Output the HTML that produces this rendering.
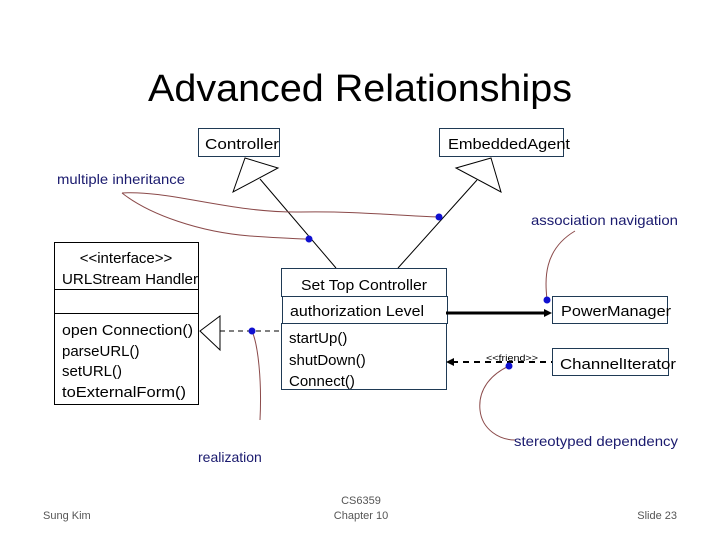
<!DOCTYPE html>
<html><head><meta charset="utf-8"><style>
html,body{margin:0;padding:0;background:#fff;}
svg{display:block;}
text{font-family:"Liberation Sans",sans-serif;}
</style></head><body>
<svg width="720" height="540" viewBox="0 0 720 540" xmlns="http://www.w3.org/2000/svg">
<text x="148" y="101" font-size="38" textLength="424" lengthAdjust="spacingAndGlyphs" fill="#000">Advanced Relationships</text>

<!-- Controller & EmbeddedAgent -->
<rect x="198.5" y="128.5" width="81" height="28" fill="#fff" stroke="#1f3a55" stroke-width="1"/>
<text x="205" y="149" font-size="15" textLength="74" lengthAdjust="spacingAndGlyphs">Controller</text>
<rect x="439.5" y="128.5" width="124" height="28" fill="#fff" stroke="#1f3a55" stroke-width="1"/>
<text x="448" y="149" font-size="15" textLength="122" lengthAdjust="spacingAndGlyphs">EmbeddedAgent</text>

<!-- generalization triangles & lines -->
<polygon points="233,192 245,158 278,168" fill="#fff" stroke="#000"/>
<line x1="260" y1="179" x2="336" y2="268" stroke="#000"/>
<polygon points="456,168 491,158 501,192" fill="#fff" stroke="#000"/>
<line x1="477" y1="180" x2="398" y2="268" stroke="#000"/>

<!-- multiple inheritance note curves -->
<text x="57" y="184" font-size="14" fill="#1a1a6e" textLength="128" lengthAdjust="spacingAndGlyphs">multiple inheritance</text>
<path d="M122,193 C170,190 230,213 300,212 C360,211 400,216 439,217" fill="none" stroke="#8b4a4a"/>
<path d="M122,193 C150,215 200,232 250,236 C280,238 300,239 309,239" fill="none" stroke="#8b4a4a"/>
<circle cx="309" cy="239" r="3.5" fill="#1010d0"/>
<circle cx="439" cy="217" r="3.5" fill="#1010d0"/>

<!-- URLStreamHandler -->
<rect x="54.5" y="242.5" width="144" height="162" fill="#fff" stroke="#000"/>
<line x1="54" y1="289.5" x2="198" y2="289.5" stroke="#000"/>
<line x1="54" y1="313.5" x2="198" y2="313.5" stroke="#000"/>
<text x="126" y="263" font-size="15" text-anchor="middle">&lt;&lt;interface&gt;&gt;</text>
<text x="62" y="284" font-size="15" textLength="136" lengthAdjust="spacingAndGlyphs">URLStream Handler</text>
<text x="62" y="335" font-size="15" textLength="131" lengthAdjust="spacingAndGlyphs">open Connection()</text>
<text x="62" y="356" font-size="15">parseURL()</text>
<text x="62" y="376" font-size="15">setURL()</text>
<text x="62" y="397" font-size="15" textLength="124" lengthAdjust="spacingAndGlyphs">toExternalForm()</text>

<!-- SetTopController -->
<rect x="281.5" y="268.5" width="165" height="28" fill="#fff" stroke="#1f3a55"/>
<text x="364" y="290" font-size="15" text-anchor="middle" textLength="126" lengthAdjust="spacingAndGlyphs">Set Top Controller</text>
<rect x="282.5" y="296.5" width="165" height="27" fill="#fff" stroke="#1f3a55"/>
<text x="290" y="316" font-size="15" textLength="134" lengthAdjust="spacingAndGlyphs">authorization Level</text>
<rect x="281.5" y="323.5" width="165" height="66" fill="#fff" stroke="#1f3a55"/>
<text x="289" y="343" font-size="15">startUp()</text>
<text x="289" y="365" font-size="15">shutDown()</text>
<text x="289" y="386" font-size="15">Connect()</text>

<!-- realization -->
<line x1="220" y1="331" x2="281" y2="331" stroke="#000" stroke-dasharray="5,4"/>
<polygon points="200,331 220,316 220,350" fill="#fff" stroke="#000"/>
<path d="M252,331 C258,345 262,380 260,420" fill="none" stroke="#8b4a4a"/>
<circle cx="252" cy="331" r="3.5" fill="#1010d0"/>
<text x="198" y="462" font-size="14" fill="#1a1a6e">realization</text>

<!-- PowerManager -->
<rect x="552.5" y="296.5" width="115" height="27" fill="#fff" stroke="#1f3a55"/>
<text x="561" y="316" font-size="15" textLength="110" lengthAdjust="spacingAndGlyphs">PowerManager</text>
<line x1="446" y1="313" x2="548" y2="313" stroke="#000" stroke-width="3"/>
<polygon points="552,313 544,309 544,317" fill="#000"/>
<path d="M547,300 C545,280 543,250 575,231" fill="none" stroke="#8b4a4a"/>
<circle cx="547" cy="300" r="3.5" fill="#1010d0"/>
<text x="531" y="225" font-size="14" fill="#1a1a6e" textLength="147" lengthAdjust="spacingAndGlyphs">association navigation</text>

<!-- ChannelIterator -->
<rect x="552.5" y="348.5" width="116" height="27" fill="#fff" stroke="#1f3a55"/>
<text x="560" y="369" font-size="15" textLength="116" lengthAdjust="spacingAndGlyphs">ChannelIterator</text>
<line x1="452" y1="362" x2="552" y2="362" stroke="#000" stroke-width="2" stroke-dasharray="6,5"/>
<polygon points="446,362 454,358 454,366" fill="#000"/>
<text x="486" y="361" font-size="9" textLength="52" lengthAdjust="spacingAndGlyphs">&lt;&lt;friend&gt;&gt;</text>
<path d="M509,366 C490,375 478,390 480,410 C482,430 500,440 515,440" fill="none" stroke="#8b4a4a"/>
<circle cx="509" cy="366" r="3.5" fill="#1010d0"/>
<text x="514" y="446" font-size="14" fill="#1a1a6e" textLength="164" lengthAdjust="spacingAndGlyphs">stereotyped dependency</text>

<!-- footer -->
<text x="43" y="519" font-size="11" fill="#555">Sung Kim</text>
<text x="361" y="504" font-size="11" fill="#555" text-anchor="middle">CS6359</text>
<text x="361" y="519" font-size="11" fill="#555" text-anchor="middle">Chapter 10</text>
<text x="677" y="519" font-size="11" fill="#555" text-anchor="end">Slide 23</text>
</svg>
</body></html>
